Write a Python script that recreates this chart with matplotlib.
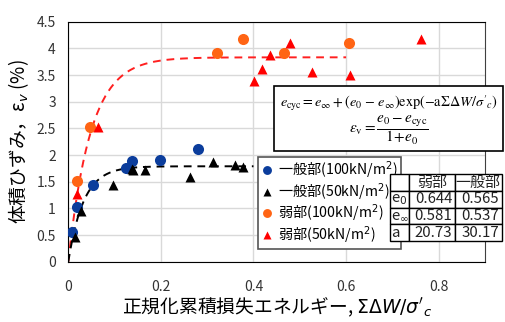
"""Volumetric strain vs normalised cumulative dissipated energy."""
import numpy as np
import matplotlib
matplotlib.use('Agg')
from matplotlib import pyplot as plt
from matplotlib.patches import Rectangle

plt.rcParams['font.family'] = ['Noto Sans CJK JP', 'DejaVu Sans']
plt.rcParams['mathtext.fontset'] = 'dejavusans'

# 一般部 (100kN/m2)
gen100_x = [0.007, 0.019, 0.053, 0.125, 0.137, 0.199, 0.281]
gen100_y = [0.55, 1.03, 1.44, 1.76, 1.89, 1.90, 2.11]
# 一般部 (50kN/m2)
gen50_x = [0.014, 0.027, 0.096, 0.137, 0.140, 0.165, 0.263, 0.313, 0.360, 0.378]
gen50_y = [0.47, 0.95, 1.43, 1.74, 1.72, 1.72, 1.58, 1.86, 1.81, 1.77]
# 弱部 (100kN/m2)
weak100_x = [0.019, 0.047, 0.322, 0.378, 0.466, 0.606]
weak100_y = [1.51, 2.52, 3.91, 4.18, 3.92, 4.10]
# 弱部 (50kN/m2)
weak50_x = [0.018, 0.065, 0.401, 0.419, 0.435, 0.478, 0.526, 0.608, 0.762]
weak50_y = [1.26, 2.52, 3.38, 3.62, 3.88, 4.10, 3.55, 3.50, 4.17]

# fitted parameters (table in the chart)
params_cols = ['弱部', '一般部']
params_rows = ['e$_0$', 'e$_\\infty$', 'a']
weak_params = [0.644, 0.581, 20.73]
gen_params = [0.565, 0.537, 30.17]
weak_xmax = 0.6
gen_xmax = 0.40

BLUE = '#0b3d9c'
ORANGE = '#ff6414'
RED = '#ff0000'


def strain_curve(params, xmax):
    """Volumetric strain (%) from e0, e_inf, a."""
    e0, einf, a = params
    x = np.linspace(0, xmax, 300)
    e = einf + (e0 - einf) * np.exp(-a * x)
    return x, (e0 - e) / (1 + e0) * 100


fig = plt.figure(figsize=(5.05, 3.22), dpi=100)
ax = fig.add_axes([0.1352, 0.1873, 0.8252, 0.7453])

ax.set_xlim(0, 0.9)
ax.set_ylim(0, 4.5)
ax.set_xticks([0, 0.2, 0.4, 0.6, 0.8])
ax.set_xticklabels(['0', '0.2', '0.4', '0.6', '0.8'])
ax.set_yticks(np.arange(0, 4.51, 0.5))
ax.set_yticklabels(['0', '0.5', '1', '1.5', '2', '2.5', '3', '3.5', '4', '4.5'])
ax.tick_params(axis='x', length=0, pad=13, labelsize=10, labelcolor='#333333')
ax.tick_params(axis='y', length=0, pad=9, labelsize=10, labelcolor='#333333')
ax.grid(True, color='#d9d9d9', lw=1)
ax.set_axisbelow(True)
for side in ['left', 'bottom', 'top']:
    ax.spines[side].set_color('black')
ax.spines['right'].set_color('#404040')

xw, yw = strain_curve(weak_params, weak_xmax)
xg, yg = strain_curve(gen_params, gen_xmax)
ax.plot(xw, yw, ls=(0, (4, 3)), color='#ff2020', lw=1.4, zorder=2)
ax.plot(xg, yg, ls=(0, (4, 3)), color='black', lw=1.4, zorder=2)

ax.plot(gen100_x, gen100_y, 'o', color=BLUE, ms=8, mec='none',
        label='一般部(100kN/m$^2$)', zorder=3)
ax.plot(gen50_x, gen50_y, '^', color='black', ms=7, mec='none',
        label='一般部(50kN/m$^2$)', zorder=3)
ax.plot(weak100_x, weak100_y, 'o', color=ORANGE, ms=8, mec='none',
        label='弱部(100kN/m$^2$)', zorder=3)
ax.plot(weak50_x, weak50_y, '^', color=RED, ms=7, mec='none',
        label='弱部(50kN/m$^2$)', zorder=3)

leg = ax.legend(loc='upper left', bbox_to_anchor=(0.456, 0.437), fontsize=10.2,
                frameon=True, fancybox=False, framealpha=1, edgecolor='#555555',
                handlelength=0.8, handletextpad=0.4, borderpad=0.2,
                labelspacing=0.0, markerscale=0.8, borderaxespad=0)
leg.get_frame().set_linewidth(1.2)
leg.set_zorder(5)

ax.set_xlabel("正規化累積損失エネルギー, $\\Sigma\\mathit{\\Delta W/\\sigma}'_c$",
              fontsize=13.5, labelpad=1)
ax.set_ylabel('体積ひずみ，ε$_v$ (%)', fontsize=13.5, labelpad=4)

# formula box
box = Rectangle((0.494, 0.461), 0.550, 0.271, transform=ax.transAxes,
                facecolor='white', edgecolor='black', lw=1.2, clip_on=False,
                zorder=6)
ax.add_patch(box)
ax.text(0.769, 0.661,
        r"$e_{\mathrm{cyc}} = e_{\infty} + (e_0\ \mathrm{-}\ e_{\infty})"
        r"\mathrm{exp(-a}\mathit{\Sigma\Delta W/\sigma'_c})$",
        transform=ax.transAxes, ha='center', va='center', fontsize=10.3,
        math_fontfamily='stix', zorder=7)
ax.text(0.769, 0.545,
        r"$\varepsilon_{\mathrm{v}} = \dfrac{e_0 - e_{\mathrm{cyc}}}{1\!+\!e_0}$",
        transform=ax.transAxes, ha='center', va='center', fontsize=11,
        math_fontfamily='stix', zorder=7)

# parameter table
cells = [[''] + params_cols]
for name, w, g in zip(params_rows, weak_params, gen_params):
    cells.append([name, f'{w:g}', f'{g:g}'])
tab = ax.table(cellText=cells, colWidths=[19.3, 45.7, 46.7],
               bbox=[0.772, 0.0863, 0.268, 0.278], cellLoc='right')
tab.auto_set_font_size(False)
tab.set_fontsize(10.8)
tab.set_zorder(8)
tab.set_clip_on(False)
for (r, c), cell in tab.get_celld().items():
    cell.set_edgecolor('black')
    cell.set_linewidth(1.0)
    cell.set_facecolor('white')
    cell.PAD = 0.06
    loc = 'right'
    if r == 0:
        loc = 'center'
    elif c == 0:
        loc = 'left'
    cell._loc = loc
    cell.get_text().set_ha(loc)
    cell.get_text().set_color('#222222')

fig.savefig('out.png', dpi=100)
